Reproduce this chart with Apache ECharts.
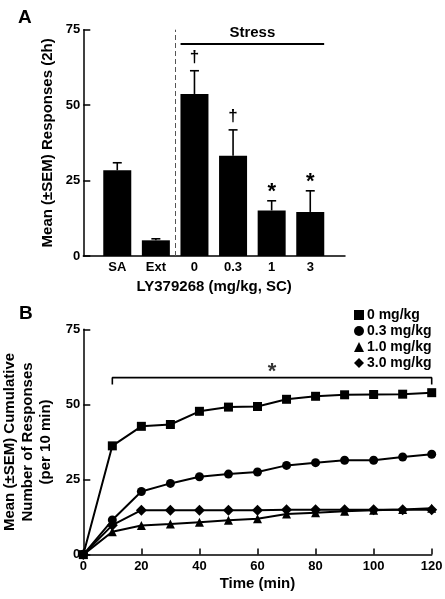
<!DOCTYPE html>
<html><head><meta charset="utf-8">
<script src="https://cdn.jsdelivr.net/npm/echarts@6/dist/echarts.min.js"></script>
<style>html,body{margin:0;padding:0;background:#fff}#c{width:445px;height:599px}</style>
</head><body><div id="c"></div>
<script>
// Panel A data
const barCats = ['SA', 'Ext', '0', '0.3', '1', '3'];
const barMeans = [28.4, 5.2, 53.7, 33.2, 15.1, 14.6];
const barSEM = [2.5, 0.5, 7.7, 8.6, 3.2, 7.0];
const barMarks = ['', '', '†', '†', '*', '*'];
const stressSpan = [1.64, 5.36];
const stressLevel = 70.3;
const dividerX = 1.5;
// Panel B data
const timeMin = [0, 10, 20, 30, 40, 50, 60, 70, 80, 90, 100, 110, 120];
const resp0 = [0, 36.2, 42.7, 43.3, 47.7, 49.1, 49.3, 51.7, 52.7, 53.2, 53.3, 53.4, 53.9];
const resp03 = [0, 11.5, 21.0, 23.7, 25.9, 26.8, 27.5, 29.7, 30.6, 31.4, 31.4, 32.5, 33.4];
const resp1 = [0, 7.6, 9.7, 10.2, 10.8, 11.4, 11.9, 13.5, 13.9, 14.4, 14.8, 15.0, 15.4];
const resp3 = [0, 9.8, 14.8, 14.8, 14.8, 14.8, 14.8, 14.9, 14.9, 14.9, 14.9, 14.9, 14.9];
const seriesNames = ['0 mg/kg', '0.3 mg/kg', '1.0 mg/kg', '3.0 mg/kg'];
const bracketX = [10, 120];
const bracketY = [56.6, 58.9];
const bracketStarX = 65;

const FONT = "'Liberation Sans', Arial, sans-serif";
const chart = echarts.init(document.getElementById('c'), null, {renderer: 'canvas'});
const axisLineStyle = {color: '#000', width: 1.5};
const tickLabel = {color: '#000', fontFamily: FONT, fontWeight: 'bold', fontSize: 13};
const nameStyle = {color: '#000', fontFamily: FONT, fontWeight: 'bold', fontSize: 15};

function pairs(xs, ys) { return xs.map((x, i) => [x, ys[i]]); }

const option = {
  animation: false,
  backgroundColor: '#fff',
  title: [
    {text: 'A', left: 13, top: 3, textStyle: {fontFamily: FONT, fontWeight: 'bold', fontSize: 19, color: '#000'}},
    {text: 'B', left: 14, top: 299, textStyle: {fontFamily: FONT, fontWeight: 'bold', fontSize: 19, color: '#000'}}
  ],
  grid: [
    {left: 83.3, top: 29.7, width: 261.7, height: 226.3, outerBoundsMode: 'none', containLabel: false},
    {left: 83.3, top: 329.3, width: 348.4, height: 225.3, outerBoundsMode: 'none', containLabel: false}
  ],
  legend: {
    orient: 'vertical', left: 349, top: 303, itemWidth: 10, itemHeight: 10, itemGap: 2,
    textStyle: {color: '#000', fontFamily: FONT, fontWeight: 'bold', fontSize: 14, lineHeight: 14, padding: [0, 0, 0, -2]},
    data: [
      {name: seriesNames[0], icon: 'rect'},
      {name: seriesNames[1], icon: 'circle'},
      {name: seriesNames[2], icon: 'triangle'},
      {name: seriesNames[3], icon: 'diamond'}
    ]
  },
  xAxis: [
    {
      gridIndex: 0, type: 'value', min: -0.88, max: 5.9,
      axisLine: {show: true, onZero: false, lineStyle: axisLineStyle},
      axisTick: {show: false}, splitLine: {show: false},
      axisLabel: Object.assign({customValues: [0, 1, 2, 3, 4, 5], margin: 5, formatter: v => barCats[Math.round(v)]}, tickLabel),
      name: 'LY379268 (mg/kg, SC)', nameLocation: 'middle', nameGap: 23, nameTextStyle: nameStyle
    },
    {
      gridIndex: 1, type: 'value', min: 0, max: 120, interval: 20,
      axisLine: {show: true, onZero: false, lineStyle: axisLineStyle},
      axisTick: {show: true, inside: true, length: 6, lineStyle: axisLineStyle}, splitLine: {show: false},
      axisLabel: Object.assign({margin: 5}, tickLabel),
      name: 'Time (min)', nameLocation: 'middle', nameGap: 22, nameTextStyle: nameStyle
    }
  ],
  yAxis: [
    {
      gridIndex: 0, type: 'value', min: 0, max: 75, interval: 25,
      axisLine: {show: true, onZero: false, lineStyle: axisLineStyle},
      axisTick: {show: true, inside: true, length: 7, lineStyle: axisLineStyle}, splitLine: {show: false},
      axisLabel: Object.assign({margin: 3}, tickLabel),
      name: 'Mean (±SEM) Responses (2h)', nameLocation: 'middle', nameGap: 24, nameTextStyle: nameStyle
    },
    {
      gridIndex: 1, type: 'value', min: 0, max: 75, interval: 25,
      axisLine: {show: true, onZero: false, lineStyle: axisLineStyle},
      axisTick: {show: true, inside: true, length: 7, lineStyle: axisLineStyle}, splitLine: {show: false},
      axisLabel: Object.assign({margin: 3}, tickLabel),
      name: 'Mean (±SEM) Cumulative\nNumber of Responses\n(per 10 min)', nameLocation: 'middle', nameGap: 26,
      nameTextStyle: Object.assign({lineHeight: 18, align: 'center'}, nameStyle)
    }
  ],
  series: [
    {
      type: 'bar', xAxisIndex: 0, yAxisIndex: 0, barWidth: 28,
      itemStyle: {color: '#000'},
      data: pairs(barCats.map((c, i) => i), barMeans),
      markLine: {
        silent: true, symbol: 'none',
        data: [
          [{coord: [stressSpan[0], stressLevel]}, {coord: [stressSpan[1], stressLevel]}]
        ],
        lineStyle: {color: '#000', width: 2, type: 'solid'},
        label: {show: true, position: 'middle', formatter: 'Stress', distance: 4,
          color: '#000', fontFamily: FONT, fontWeight: 'bold', fontSize: 15}
      }
    },
    {
      type: 'line', xAxisIndex: 0, yAxisIndex: 0, data: [], symbol: 'none',
      markLine: {
        silent: true, symbol: 'none', label: {show: false},
        data: [{xAxis: dividerX}],
        lineStyle: {color: '#555', width: 1, type: [5, 3]}
      }
    },
    {
      type: 'custom', xAxisIndex: 0, yAxisIndex: 0, z: 5,
      encode: {x: 0, y: 1},
      data: barCats.map((c, i) => [i, barMeans[i], barSEM[i]]),
      renderItem: function (params, api) {
        const x = api.value(0), m = api.value(1), e = api.value(2);
        const p0 = api.coord([x, m]);
        const p1 = api.coord([x, m + e]);
        const mark = barMarks[params.dataIndex];
        const children = [
          {type: 'line', shape: {x1: p0[0], y1: p0[1], x2: p1[0], y2: p1[1]}, style: {stroke: '#000', lineWidth: 1.6}},
          {type: 'line', shape: {x1: p1[0] - 4.5, y1: p1[1], x2: p1[0] + 4.5, y2: p1[1]}, style: {stroke: '#000', lineWidth: 1.6}}
        ];
        if (mark) {
          const isStar = mark === '*';
          children.push({type: 'text', style: {
            text: mark, x: p1[0], y: p1[1] + (isStar ? 2 : -5),
            align: 'center', verticalAlign: 'bottom',
            font: 'bold ' + (isStar ? 22 : 17) + 'px ' + FONT, fill: '#000'}});
        }
        return {type: 'group', children: children};
      }
    },
    {
      name: seriesNames[0], type: 'line', xAxisIndex: 1, yAxisIndex: 1,
      data: pairs(timeMin, resp0), symbol: 'rect', symbolSize: 9,
      lineStyle: {color: '#000', width: 2}, itemStyle: {color: '#000'}
    },
    {
      name: seriesNames[1], type: 'line', xAxisIndex: 1, yAxisIndex: 1,
      data: pairs(timeMin, resp03), symbol: 'circle', symbolSize: 9,
      lineStyle: {color: '#000', width: 2}, itemStyle: {color: '#000'}
    },
    {
      name: seriesNames[2], type: 'line', xAxisIndex: 1, yAxisIndex: 1,
      data: pairs(timeMin, resp1), symbol: 'triangle', symbolSize: 9,
      lineStyle: {color: '#000', width: 2}, itemStyle: {color: '#000'}
    },
    {
      name: seriesNames[3], type: 'line', xAxisIndex: 1, yAxisIndex: 1,
      data: pairs(timeMin, resp3), symbol: 'diamond', symbolSize: 11,
      lineStyle: {color: '#000', width: 2}, itemStyle: {color: '#000'}
    },
    {
      type: 'line', xAxisIndex: 1, yAxisIndex: 1, symbol: 'none', silent: true,
      lineStyle: {color: '#000', width: 1.6},
      data: [[bracketX[0], bracketY[0]], [bracketX[0], bracketY[1]], [bracketX[1], bracketY[1]], [bracketX[1], bracketY[0]]]
    },
    {
      type: 'scatter', xAxisIndex: 1, yAxisIndex: 1, symbol: 'circle', symbolSize: 1, silent: true,
      itemStyle: {color: 'rgba(0,0,0,0)'},
      data: [[bracketStarX, bracketY[1]]],
      label: {show: true, formatter: '*', position: 'top', distance: -6,
        color: '#000', fontFamily: FONT, fontWeight: 'bold', fontSize: 22}
    }
  ]
};
chart.setOption(option);
</script>
</body></html>
